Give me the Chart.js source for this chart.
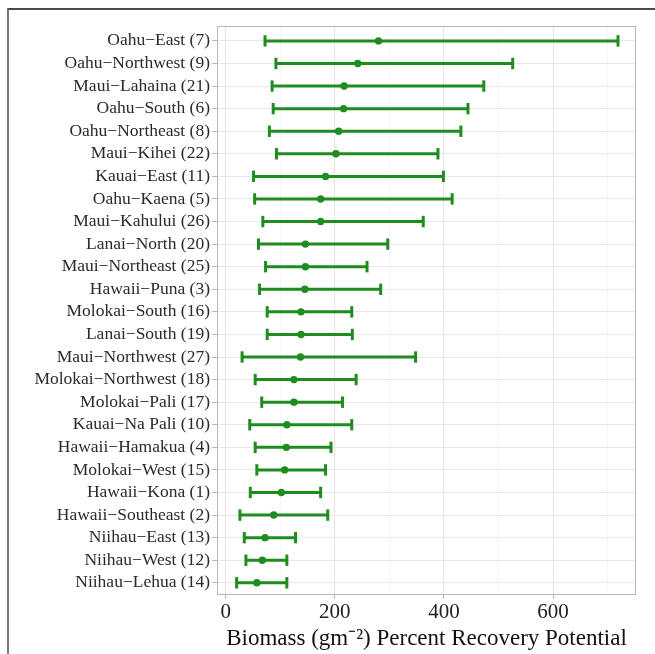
<!DOCTYPE html>
<html>
<head>
<meta charset="utf-8">
<script src="https://cdn.jsdelivr.net/npm/chart.js@4.4.1/dist/chart.umd.min.js"></script>
<style>
  html, body { margin: 0; padding: 0; background: #fff; }
  #wrap { position: relative; width: 655px; height: 654px; }
  #frame {
    position: absolute; left: 7px; top: 8px; right: 0; bottom: 0;
    border-top: 2px solid #4a4a4a; border-left: 2px solid #7a7a7a;
    pointer-events: none;
  }
  canvas { position: absolute; left: 0; top: 0; }
</style>
</head>
<body>
<div id="wrap">
  <canvas id="recoveryChart" width="655" height="654"></canvas>
  <div id="frame"></div>
</div>
<script>
// sectors, top to bottom
const sectors = [
  "Oahu−East (7)", "Oahu−Northwest (9)", "Maui−Lahaina (21)", "Oahu−South (6)",
  "Oahu−Northeast (8)", "Maui−Kihei (22)", "Kauai−East (11)", "Oahu−Kaena (5)",
  "Maui−Kahului (26)", "Lanai−North (20)", "Maui−Northeast (25)", "Hawaii−Puna (3)",
  "Molokai−South (16)", "Lanai−South (19)", "Maui−Northwest (27)", "Molokai−Northwest (18)",
  "Molokai−Pali (17)", "Kauai−Na Pali (10)", "Hawaii−Hamakua (4)", "Molokai−West (15)",
  "Hawaii−Kona (1)", "Hawaii−Southeast (2)", "Niihau−East (13)", "Niihau−West (12)",
  "Niihau−Lehua (14)"
];
const meanValues = [280, 242, 217, 216, 207, 202, 183, 174, 174, 146, 146, 145,
  138, 138, 137, 125, 125, 112, 111, 108, 102, 88, 72, 67, 57];
const lowerValues = [72, 92, 85, 87, 80, 93, 51, 53, 68, 60, 73, 62,
  76, 76, 30, 54, 66, 44, 54, 57, 45, 26, 34, 37, 20];
const upperValues = [719, 526, 473, 444, 431, 389, 399, 415, 362, 297, 259, 284,
  231, 232, 348, 239, 214, 231, 193, 183, 174, 187, 128, 112, 112];
const xTicks = [0, 100, 200, 300, 400, 500, 600, 700];

const green = "#1f8c1f";
const canvas = document.getElementById("recoveryChart");

// error bars: one small line dataset per sector, caps as vertical line points
const errorSets = sectors.map((name, i) => ({
    label: name,
    data: [{ x: lowerValues[i], y: i }, { x: upperValues[i], y: i }],
    showLine: true,
    borderColor: green,
    borderWidth: 3,
    pointStyle: "line",
    pointRotation: 90,
    pointRadius: 5.7,
    pointBorderWidth: 3,
    pointBorderColor: green,
    pointBackgroundColor: green
}));

const panelBorder = {
    id: "panelBorder",
    beforeDatasetsDraw(chart) {
        const { ctx, chartArea: a } = chart;
        ctx.save();
        ctx.strokeStyle = "#b8b8b8";
        ctx.lineWidth = 1;
        ctx.strokeRect(a.left + 0.5, a.top + 0.5, a.right - a.left - 1, a.bottom - a.top - 1);
        ctx.restore();
    }
};

new Chart(canvas, {
    type: "scatter",
    data: {
        datasets: [
            ...errorSets,
            {
                label: "Mean",
                data: meanValues.map((v, i) => ({ x: v, y: i })),
                pointRadius: 3.7,
                pointBorderWidth: 0,
                backgroundColor: green
            }
        ]
    },
    options: {
        responsive: false,
        animation: false,
        events: [],
        layout: {
            padding: { top: 26, right: 19, bottom: 0, left: 0 }
        },
        plugins: {
            legend: { display: false },
            tooltip: { enabled: false }
        },
        scales: {
            x: {
                type: "linear",
                min: -16,
                max: 752,
                afterBuildTicks: (scale) => {
                    scale.ticks = xTicks.map(v => ({ value: v }));
                },
                afterFit: (scale) => { scale.height = 59; },
                border: { display: false },
                grid: {
                    color: (c) => (c.tick && c.tick.value % 200 === 0) ? "#e6e6e6" : "#efefef",
                    lineWidth: (c) => (c.tick && c.tick.value % 200 === 0) ? 1 : 0.6,
                    tickColor: (c) => (c.tick && c.tick.value % 200 === 0) ? "#b8b8b8" : "rgba(0,0,0,0)",
                    tickLength: 4
                },
                ticks: {
                    autoSkip: false,
                    maxRotation: 0,
                    padding: 1,
                    color: "#222",
                    font: { family: "Liberation Serif", size: 21 },
                    callback: (v) => v % 200 === 0 ? v : ""
                },
                title: {
                    display: true,
                    text: "Biomass (gm⁻²) Percent Recovery Potential",
                    color: "#111",
                    font: { family: "Liberation Serif", size: 23 },
                    padding: { top: 0, bottom: 1 }
                }
            },
            y: {
                type: "linear",
                reverse: true,
                min: -0.66,
                max: 24.54,
                afterBuildTicks: (scale) => {
                    scale.ticks = sectors.map((_, i) => ({ value: i }));
                },
                afterFit: (scale) => { scale.width = 217; },
                border: { display: false },
                grid: {
                    color: "#e8e8e8",
                    lineWidth: 1,
                    tickColor: "#b8b8b8",
                    tickLength: 5
                },
                ticks: {
                    autoSkip: false,
                    padding: 2,
                    color: "#2a2a2a",
                    font: { family: "Liberation Serif", size: 17.5 },
                    callback: (v) => sectors[v]
                }
            }
        }
    },
    plugins: [panelBorder]
});
</script>
</body>
</html>
